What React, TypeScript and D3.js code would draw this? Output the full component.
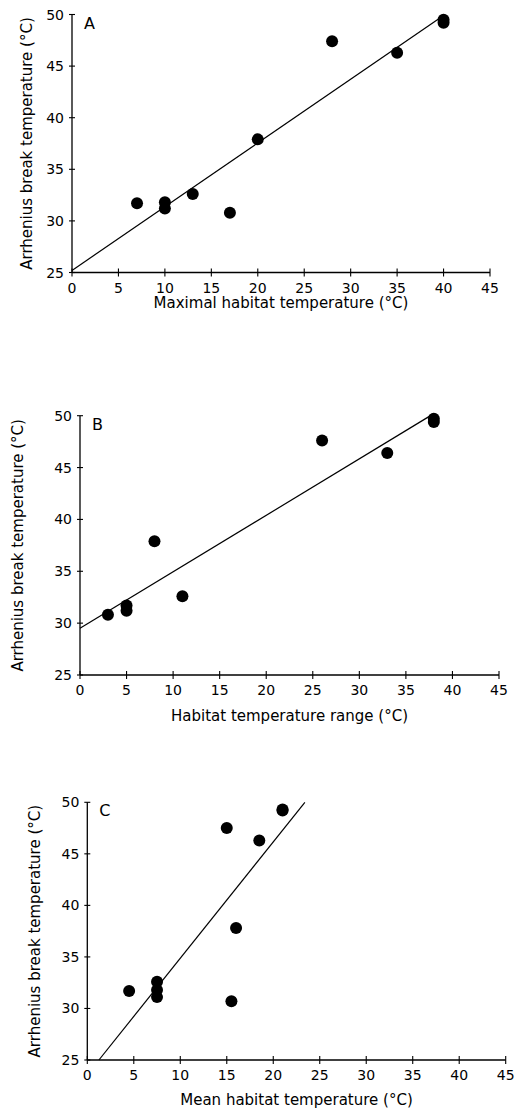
import React from 'react'
import * as d3 from 'd3'

// values
const xTicks = [0, 5, 10, 15, 20, 25, 30, 35, 40, 45]
const yTicks = [25, 30, 35, 40, 45, 50]

const maxTemp = [7, 10, 10, 13, 17, 20, 28, 35, 40, 40]
const breakA = [31.7, 31.8, 31.2, 32.6, 30.8, 37.9, 47.4, 46.3, 49.2, 49.5]
const fitA = [[0, 25.2], [40, 49.9]]

const tempRange = [3, 5, 5, 8, 11, 26, 33, 38, 38]
const breakB = [30.8, 31.7, 31.2, 37.9, 32.6, 47.6, 46.4, 49.4, 49.7]
const fitB = [[0, 29.5], [38, 50.2]]

const meanTemp = [4.5, 7.5, 7.5, 7.5, 15, 15.5, 16, 18.5, 21, 21]
const breakC = [31.7, 32.6, 31.8, 31.1, 47.5, 30.7, 37.8, 46.3, 49.2, 49.3]
const fitC = [[1.25, 25], [23.4, 50]]

const yTitle = 'Arrhenius break temperature (°C)'

const font = '"DejaVu Sans", sans-serif'

function Panel({ letter, xs, ys, fit, xTitle, box, ylabX, xlabY, tickY }) {
  const x = d3.scaleLinear().domain([0, 45]).range([box.left, box.right])
  const y = d3.scaleLinear().domain([25, 50]).range([box.bottom, box.top])
  const line = d3.line().x(d => x(d[0])).y(d => y(d[1]))
  const midY = (box.top + box.bottom) / 2
  return (
    <g>
      {/* axes */}
      <line x1={x(0)} x2={x(0)} y1={y(25)} y2={y(50)} stroke="#000" strokeWidth={1.3} />
      <line x1={x(0)} x2={x(45)} y1={y(25)} y2={y(25)} stroke="#000" strokeWidth={1.3} />
      {yTicks.map(t => (
        <g key={'y' + t}>
          <line x1={x(0) - 3} x2={x(0) + 3} y1={y(t)} y2={y(t)} stroke="#000" strokeWidth={1.1} />
          <text x={x(0) - 8} y={y(t) + 5} textAnchor="end" fontSize={14} fontFamily={font}>{t}</text>
        </g>
      ))}
      {xTicks.map(t => (
        <g key={'x' + t}>
          <line x1={x(t)} x2={x(t)} y1={y(25) - 4} y2={y(25) + 4} stroke="#000" strokeWidth={1.1} />
          <text x={x(t)} y={tickY} textAnchor="middle" fontSize={14} fontFamily={font}>{t}</text>
        </g>
      ))}
      <text x={x(0) + 12} y={y(50) + 14} fontSize={16} fontFamily={font}>{letter}</text>
      <path d={line(fit)} fill="none" stroke="#000" strokeWidth={1.2} />
      {xs.map((v, i) => (
        <circle key={i} cx={x(v)} cy={y(ys[i])} r={6} fill="#000" />
      ))}
      <text x={(box.left + box.right) / 2} y={xlabY} textAnchor="middle" fontSize={15} fontFamily={font}>{xTitle}</text>
      <text transform={`translate(${ylabX},${midY}) rotate(-90)`} textAnchor="middle" dy="0.35em" fontSize={15} fontFamily={font}>{yTitle}</text>
    </g>
  )
}

export default function App() {
  return (
    <svg width={516} height={1112} style={{ position: 'absolute', left: 0, top: 0, background: '#fff' }}>
      <rect width={516} height={1112} fill="#fff" />
      <Panel letter="A" xs={maxTemp} ys={breakA} fit={fitA} xTitle="Maximal habitat temperature (°C)"
        box={{ left: 72, right: 490, top: 14.5, bottom: 272.5 }} ylabX={27} xlabY={308} tickY={293} />
      <Panel letter="B" xs={tempRange} ys={breakB} fit={fitB} xTitle="Habitat temperature range (°C)"
        box={{ left: 80, right: 499, top: 415.7, bottom: 675 }} ylabX={18} xlabY={721} tickY={695} />
      <Panel letter="C" xs={meanTemp} ys={breakC} fit={fitC} xTitle="Mean habitat temperature (°C)"
        box={{ left: 87.3, right: 505.7, top: 802.3, bottom: 1060 }} ylabX={35} xlabY={1105} tickY={1080} />
    </svg>
  )
}
